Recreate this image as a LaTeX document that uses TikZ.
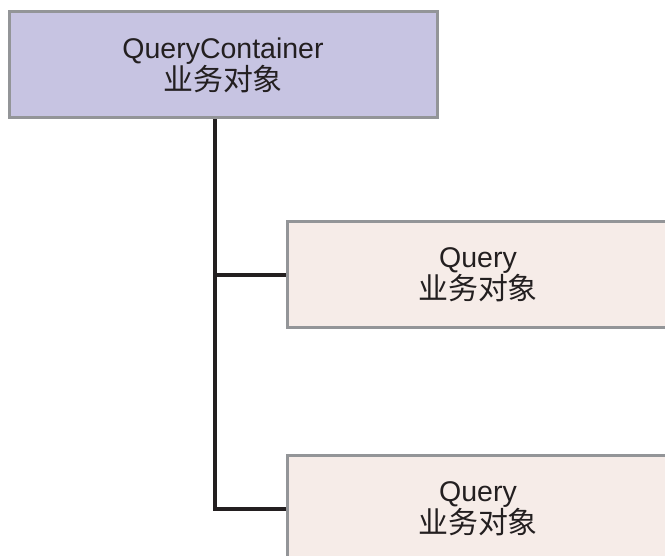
\documentclass[tikz,border=0pt]{standalone}
\usepackage{fontspec}
\setmainfont{Liberation Sans}
\newfontfamily\cjk[Scale=1.05]{Noto Sans CJK SC}
\definecolor{topfill}{RGB}{199,196,226}
\definecolor{subfill}{RGB}{246,236,232}
\definecolor{edgegray}{RGB}{147,149,152}
\definecolor{ink}{RGB}{35,31,32}
\tikzset{
  objbox/.style={draw=edgegray, line width=3pt, align=center, text=ink,
    minimum height=106pt, inner sep=0pt,
    font=\fontsize{28.5}{31}\selectfont},
  conn/.style={draw=ink, line width=4pt, line join=miter}
}
\begin{document}
\begin{tikzpicture}[x=1pt,y=-1pt]
\useasboundingbox (0,0) rectangle (665,556);
\node[objbox, fill=topfill, minimum width=428pt] (top) at (223,65) {QueryContainer\\{\cjk 业务对象}};
\node[objbox, fill=subfill, minimum width=382pt] (q1) at (478,275) {Query\\{\cjk 业务对象}};
\node[objbox, fill=subfill, minimum width=382pt] (q2) at (478,509) {Query\\{\cjk 业务对象}};
\coordinate (trunk) at (215,0);
\draw[conn] (top.south -| trunk) |- (q2.west);
\draw[conn] (trunk |- q1.west) -- (q1.west);
\end{tikzpicture}
\end{document}
